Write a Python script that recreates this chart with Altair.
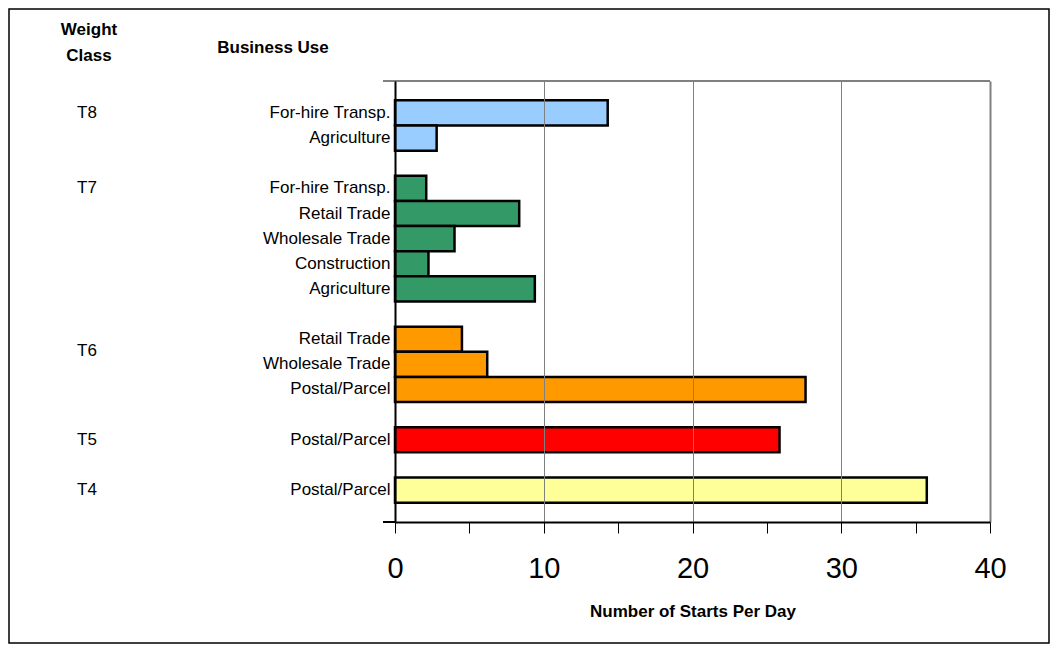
import altair as alt
import pandas as pd

# ---- data ----
weight_class = ["T8", "T8", "T7", "T7", "T7", "T7", "T7", "T6", "T6", "T6", "T5", "T4"]
business_use = ["For-hire Transp.", "Agriculture",
                "For-hire Transp.", "Retail Trade", "Wholesale Trade", "Construction", "Agriculture",
                "Retail Trade", "Wholesale Trade", "Postal/Parcel",
                "Postal/Parcel", "Postal/Parcel"]
starts_per_day = [14.3, 2.8, 2.1, 8.35, 4.0, 2.25, 9.4, 4.5, 6.2, 27.6, 25.85, 35.75]
class_order = ["T8", "T7", "T6", "T5", "T4"]
class_colors = ["#99CCFF", "#339966", "#FF9900", "#FF0000", "#FFFF99"]
x_tick_values = [0, 5, 10, 15, 20, 25, 30, 35, 40]
x_domain = [0, 40]

# ---- build table / category order with blank slots between classes ----
keys = [f"{c}|{u}" for c, u in zip(weight_class, business_use)]
row_domain = []
prev = None
gap = 0
for c, k in zip(weight_class, keys):
    if prev is not None and c != prev:
        gap += 1
        row_domain.append(f"gap{gap}")
    row_domain.append(k)
    prev = c

df = pd.DataFrame({"weight_class": weight_class, "business_use": business_use,
                   "starts": starts_per_day, "key": keys})

# class label anchors: first row of each class (T6 sits between its first two rows)
first_rows = df.drop_duplicates("weight_class")[["weight_class", "key"]]

FONT = "Liberation Sans"
W, H = 595, 441

label_expr = ("indexof(datum.value, '|') >= 0 ? "
              "substring(datum.value, indexof(datum.value, '|') + 1) : ''")

y_scale = alt.Scale(domain=row_domain, paddingInner=0, paddingOuter=0.77)

y_enc = alt.Y("key:N", sort=row_domain, scale=y_scale,
              axis=alt.Axis(title=None, labelExpr=label_expr, ticks=False,
                            domainColor="black", domainWidth=2,
                            labelFont=FONT, labelFontSize=17, labelColor="black",
                            labelPadding=5, labelLimit=300, zindex=2))

x_scale = alt.Scale(domain=x_domain, nice=False, zero=True)

bars = alt.Chart(df).mark_bar(stroke="black", strokeWidth=2.5).encode(
    x=alt.X("starts:Q", scale=x_scale,
            axis=alt.Axis(values=x_tick_values, title="Number of Starts Per Day",
                          labelExpr="datum.value % 10 === 0 ? datum.label : ''",
                          grid=True, gridColor="#808080",
                          gridOpacity=alt.condition("datum.value % 10 === 0", alt.value(1), alt.value(0)),
                          gridWidth=alt.condition("datum.value === 40", alt.value(2), alt.value(1)),
                          domainColor="black", domainWidth=2,
                          tickColor="black", tickSize=11, tickWidth=1,
                          labelFont=FONT, labelFontSize=29, labelColor="black",
                          labelPadding=21, labelFlush=False,
                          titleFont=FONT, titleFontSize=17, titleFontWeight="bold",
                          titleColor="black", titlePadding=20, zindex=2)),
    y=y_enc,
    color=alt.Color("weight_class:N", scale=alt.Scale(domain=class_order, range=class_colors),
                    legend=None),
)

class_text = alt.Chart(first_rows).transform_filter(
    "datum.weight_class !== 'T6'"
).mark_text(font=FONT, fontSize=17, color="black", align="center", baseline="middle").encode(
    x=alt.value(87 - 395),
    y=alt.Y("key:N", sort=row_domain, scale=y_scale),
    text="weight_class:N",
)

class_text_t6 = alt.Chart(first_rows).transform_filter(
    "datum.weight_class === 'T6'"
).mark_text(font=FONT, fontSize=17, color="black", align="center", baseline="middle", dy=12).encode(
    x=alt.value(87 - 395),
    y=alt.Y("key:N", sort=row_domain, scale=y_scale),
    text="weight_class:N",
)

one = alt.Data(values=[{"a": 1}])

header_weight = alt.Chart(one).mark_text(
    font=FONT, fontSize=17, fontWeight="bold", color="black", align="center",
    baseline="middle", lineHeight=26
).encode(x=alt.value(89 - 395), y=alt.value(30 - 81), text=alt.value(["Weight", "Class"]))

header_use = alt.Chart(one).mark_text(
    font=FONT, fontSize=17, fontWeight="bold", color="black", align="center", baseline="middle"
).encode(x=alt.value(273 - 395), y=alt.value(48 - 81), text=alt.value("Business Use"))

# plot-area top border, and axis stubs to the left of the plot
top_border = alt.Chart(one).mark_rule(color="#808080", strokeWidth=2).encode(
    x=alt.value(0), x2=alt.value(W), y=alt.value(0))
left_stub_top = alt.Chart(one).mark_rule(color="black", strokeWidth=1).encode(
    x=alt.value(-12), x2=alt.value(0), y=alt.value(0))
left_stub_bottom = alt.Chart(one).mark_rule(color="black", strokeWidth=2).encode(
    x=alt.value(-12), x2=alt.value(0), y=alt.value(H))

# outer frame around the whole chart
frame = alt.Chart(one).mark_rect(fill=None, stroke="black", strokeWidth=1.5).encode(
    x=alt.value(-386), x2=alt.value(1049 - 395), y=alt.value(-72), y2=alt.value(643 - 81))

chart = alt.layer(
    frame, top_border, bars, class_text, class_text_t6, header_weight, header_use,
    left_stub_top, left_stub_bottom
).properties(width=W, height=H, padding=0).configure_view(stroke=None).configure(background="white")

chart.save("out.html", embed_options={"renderer": "svg", "actions": False})
